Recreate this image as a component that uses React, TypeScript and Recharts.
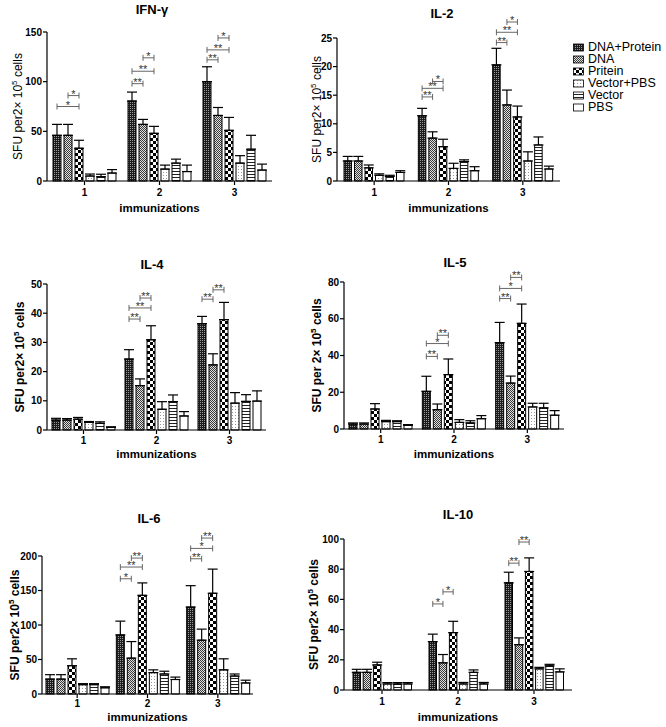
import React from 'react';
import { BarChart, Bar, XAxis, YAxis, ErrorBar, Legend } from 'recharts';

const FONT = '"Liberation Sans", Arial, Helvetica, sans-serif';

const categories = ['1', '2', '3'];
const seriesNames = ['DNA+Protein', 'DNA', 'Pritein', 'Vector+PBS', 'Vector', 'PBS'];
const seriesFills = ['url(#pDP)', 'url(#pD)', 'url(#pP)', 'url(#pVP)', 'url(#pV)', '#ffffff'];

// [group][series]
const ifnMeans = [[46, 46, 33, 5, 4.3, 8], [80.5, 57, 48, 12, 18, 9.5], [100, 66, 51, 18, 32, 11]];
const ifnErrors = [[11, 11, 8, 2, 2.5, 3.5], [9, 5, 7, 4, 4, 6.5], [15, 8, 13, 7.5, 14, 6]];
const ifnTicks = [0, 50, 100, 150];

const il2Means = [[3.5, 3.5, 2.3, 1.0, 0.8, 1.5], [11.4, 7.5, 6.0, 2.2, 3.4, 1.8], [20.3, 13.3, 11.2, 3.5, 6.3, 2.1]];
const il2Errors = [[0.8, 0.8, 0.5, 0.25, 0.2, 0.3], [1.3, 1.1, 1.3, 0.9, 0.3, 0.7], [2.9, 2.6, 1.9, 1.6, 1.4, 0.5]];
const il2Ticks = [0, 5, 10, 15, 20, 25];

const il4Means = [[3.4, 3.4, 3.7, 2.6, 2.3, 0.9], [24.3, 15.2, 30.9, 7.1, 9.7, 4.8], [36.4, 22.3, 37.8, 9.2, 9.8, 9.9]];
const il4Errors = [[0.6, 0.5, 0.6, 0.3, 0.5, 0.2], [3.2, 2.3, 4.8, 2.6, 2.3, 1.5], [2.5, 3.8, 5.9, 3.6, 2.3, 3.5]];
const il4Ticks = [0, 10, 20, 30, 40, 50];

const il5Means = [[2.7, 2.7, 10.9, 4.0, 4.0, 2.0], [20.5, 10.5, 29.6, 3.6, 3.3, 5.6], [47, 25, 57.5, 12, 11.5, 7.5]];
const il5Errors = [[0.6, 0.6, 2.9, 0.7, 0.5, 0.4], [8.2, 3.1, 8.5, 1.5, 1.2, 1.7], [11, 3.8, 10.5, 2, 2.5, 2.5]];
const il5Ticks = [0, 20, 40, 60, 80];

const il6Means = [[21.6, 21.6, 41, 13.5, 13.5, 9], [85.6, 52, 143, 31, 29, 21], [126, 78, 146, 35, 26, 16]];
const il6Errors = [[6.4, 6.4, 10, 1.5, 1.5, 1.5], [20, 24, 18, 4, 4, 3.5], [31, 16, 35, 16, 3, 4]];
const il6Ticks = [0, 50, 100, 150, 200];

const il10Means = [[11.7, 11.7, 16.6, 4, 4, 4], [32, 18, 38, 4, 11.7, 4], [71, 30, 78.5, 14, 16, 12]];
const il10Errors = [[2, 2, 1.8, 0.9, 0.9, 0.9], [5, 5.5, 7.5, 1, 1.6, 1], [7, 4.5, 9, 1, 1, 2]];
const il10Ticks = [0, 20, 40, 60, 80, 100];

// significance brackets: [group, fromSeries, toSeries, level, text]
type Sig = [number, number, number, number, string];
const ifnSig: Sig[] = [[0, 0, 2, 75, '*'], [0, 1, 2, 86, '*'], [1, 0, 1, 98, '**'], [1, 0, 2, 110.5, '**'], [1, 1, 2, 124, '*'], [2, 0, 1, 122, '**'], [2, 0, 2, 132, '**'], [2, 1, 2, 144, '*']];
const il2Sig: Sig[] = [[1, 0, 1, 14.7, '**'], [1, 0, 2, 16.2, '**'], [1, 1, 2, 17.4, '*'], [2, 0, 1, 24.2, '**'], [2, 0, 2, 26, '**'], [2, 1, 2, 27.8, '*']];
const il4Sig: Sig[] = [[1, 0, 1, 38, '**'], [1, 0, 2, 41.8, '**'], [1, 1, 2, 45.2, '**'], [2, 0, 1, 44.8, '**'], [2, 1, 2, 48, '**']];
const il5Sig: Sig[] = [[1, 0, 1, 39.5, '**'], [1, 0, 2, 46.5, '*'], [1, 1, 2, 51, '**'], [2, 0, 1, 71, '**'], [2, 0, 2, 76.5, '*'], [2, 1, 2, 82.5, '**']];
const il6Sig: Sig[] = [[1, 0, 1, 167, '*'], [1, 0, 2, 184, '**'], [1, 1, 2, 197, '**'], [2, 0, 1, 196, '**'], [2, 0, 2, 211, '*'], [2, 1, 2, 226, '**']];
const il10Sig: Sig[] = [[1, 0, 1, 57, '*'], [1, 1, 2, 65, '*'], [2, 0, 1, 84, '**'], [2, 1, 2, 98, '**']];

function buildRows(means: number[][], errors: number[][]) {
  return categories.map((c, g) => {
    const row: any = { cat: c };
    seriesNames.forEach((_, s) => {
      row['v' + s] = means[g][s];
      row['e' + s] = errors[g][s];
    });
    return row;
  });
}

const makeBracketShape = (sig: Sig[], step: number) => (sp: any) => {
  const { x, y, width, height, payload, fill } = sp;
  const g = categories.indexOf(payload.cat);
  const k = payload.v0 ? height / payload.v0 : 0;
  const base = y + height;
  return (
    <g>
      <rect x={x} y={y} width={width} height={height} fill={fill} stroke="#000" strokeWidth={1} />
      {sig.filter((s) => s[0] === g).map((s, i) => {
        const x1 = x + width / 2 + s[1] * step;
        const x2 = x + width / 2 + s[2] * step;
        const yy = base - s[3] * k;
        return (
          <g key={i} stroke="#555" strokeWidth={0.9}>
            <line x1={x1} x2={x2} y1={yy} y2={yy} />
            <line x1={x1} x2={x1} y1={yy - 3} y2={yy + 3} />
            <line x1={x2} x2={x2} y1={yy - 3} y2={yy + 3} />
            <text x={(x1 + x2) / 2} y={yy + 2} textAnchor="middle" fontSize={11} fontFamily={FONT} fill="#333" stroke="none">{s[4]}</text>
          </g>
        );
      })}
    </g>
  );
};

interface PanelProps {
  title: string;
  means: number[][];
  errors: number[][];
  ticks: number[];
  sig: Sig[];
  box: { left: number; top: number; width: number; height: number };
  plot: { left: number; right: number; top: number; bottom: number };
  titlePos: { x: number; y: number };
  yLabelText: string;
  yLabelX: number;
  yLabelBold: boolean;
  xLabelBaseline: number;
  tickMargin: number;
  barSize: number;
  barGap: number;
  legend?: { left: number; top: number };
}

const legendContent = (lp: any) => {
  const items = [...(lp.payload || [])].sort((a: any, b: any) => seriesNames.indexOf(a.value) - seriesNames.indexOf(b.value));
  return (
    <div style={{ fontFamily: FONT, fontSize: 12.5, color: '#000' }}>
      {items.map((e: any, i: number) => (
        <div key={i} style={{ display: 'flex', alignItems: 'center', height: 12 }}>
          <svg width={12} height={9} style={{ marginRight: 3, display: 'block', flex: 'none' }}>
            <rect x={0.5} y={1} width={10} height={7} fill={(e.payload && e.payload.fill) || e.color} stroke="#000" strokeWidth={0.8} />
          </svg>
          <span style={{ lineHeight: '12px', whiteSpace: 'nowrap' }}>{e.value}</span>
        </div>
      ))}
    </div>
  );
};

const Panel = (p: PanelProps) => {
  const rows = buildRows(p.means, p.errors);
  const step = p.barSize + p.barGap;
  const xAxisH = 30;
  const margin = {
    top: p.plot.top - p.box.top,
    right: p.box.left + p.box.width - p.plot.right,
    left: 0,
    bottom: p.box.top + p.box.height - p.plot.bottom - xAxisH,
  };
  const domainMax = p.ticks[p.ticks.length - 1];
  const lx = p.yLabelX - p.box.left + 4;
  const ly = (p.plot.top + p.plot.bottom) / 2 - p.box.top;
  const yLabel = () => (
    <text x={lx} y={ly} transform={`rotate(-90 ${lx} ${ly})`} textAnchor="middle" fontFamily={FONT} fontSize={12} fontWeight={p.yLabelBold ? 'bold' : 'normal'} fill="#000">
      {p.yLabelText}
      <tspan dy={-5} fontSize={8}>5</tspan>
      <tspan dy={5}> cells</tspan>
    </text>
  );
  const xcx = (p.plot.left + p.plot.right) / 2 - p.box.left;
  const xcy = p.xLabelBaseline - p.box.top;
  const xLabel = () => (
    <text x={xcx} y={xcy} textAnchor="middle" fontFamily={FONT} fontSize={11.5} fontWeight="bold" fill="#000">immunizations</text>
  );
  const tickStyle = { fontSize: 10, fontWeight: 700, fill: '#000', fontFamily: FONT };
  return (
    <div style={{ position: 'absolute', left: p.box.left, top: p.box.top, width: p.box.width, height: p.box.height }}>
      <div style={{ position: 'absolute', left: p.titlePos.x - p.box.left - 50, width: 100, top: p.titlePos.y - p.box.top - 8, textAlign: 'center', fontFamily: FONT, fontWeight: 'bold', fontSize: 13, lineHeight: '16px', color: '#000' }}>{p.title}</div>
      <BarChart width={p.box.width} height={p.box.height} data={rows} margin={margin} barGap={p.barGap} barSize={p.barSize} style={{ overflow: 'visible' }}>
        <XAxis dataKey="cat" height={xAxisH} tickSize={4} tickMargin={p.tickMargin} stroke="#000" strokeWidth={1.2} tick={tickStyle} tickLine={{ stroke: '#000', strokeWidth: 1.2 }} axisLine={{ stroke: '#000', strokeWidth: 1.2 }} label={xLabel} />
        <YAxis width={p.plot.left - p.box.left} domain={[0, domainMax]} ticks={p.ticks} interval={0} tickSize={4} tickMargin={1} tick={tickStyle} tickLine={{ stroke: '#000', strokeWidth: 1.2 }} axisLine={{ stroke: '#000', strokeWidth: 1.2 }} label={yLabel} />
        {p.legend && (
          <Legend layout="vertical" align="center" verticalAlign="middle" content={legendContent} wrapperStyle={{ left: p.legend.left - p.box.left, top: p.legend.top - p.box.top, width: 110, height: 75 }} />
        )}
        {seriesNames.map((name, s) => (
          <Bar
            key={name}
            dataKey={'v' + s}
            name={name}
            fill={seriesFills[s]}
            stroke="#000"
            strokeWidth={1}
            isAnimationActive={false}
            shape={s === 0 ? makeBracketShape(p.sig, step) : undefined}
          >
            <ErrorBar dataKey={(d: any) => [0, d['e' + s]]} width={5} stroke="#000" strokeWidth={1.2} direction="y" />
          </Bar>
        ))}
      </BarChart>
    </div>
  );
};

export default function App() {
  return (
    <div style={{ position: 'absolute', left: 0, top: 0, width: 666, height: 727, background: '#fff', overflow: 'hidden' }}>
      <svg width={0} height={0} style={{ position: 'absolute' }}>
        <defs>
          <pattern id="pDP" patternUnits="userSpaceOnUse" width="2" height="2">
            <rect width="2" height="2" fill="#1c1c1c" />
            <rect width="1" height="1" fill="#9a9a9a" />
          </pattern>
          <pattern id="pD" patternUnits="userSpaceOnUse" width="2" height="2">
            <rect width="2" height="2" fill="#e0e0e0" />
            <rect width="1" height="1" fill="#3a3a3a" />
            <rect x="1" y="1" width="1" height="1" fill="#3a3a3a" />
          </pattern>
          <pattern id="pP" patternUnits="userSpaceOnUse" width="6" height="6">
            <rect width="6" height="6" fill="#fff" />
            <rect width="3" height="3" fill="#000" />
            <rect x="3" y="3" width="3" height="3" fill="#000" />
          </pattern>
          <pattern id="pVP" patternUnits="userSpaceOnUse" width="3" height="3">
            <rect width="3" height="3" fill="#fff" />
            <rect x="1" y="1" width="1" height="1" fill="#999" />
          </pattern>
          <pattern id="pV" patternUnits="userSpaceOnUse" width="3" height="3">
            <rect width="3" height="3" fill="#fff" />
            <rect width="3" height="1" fill="#222" />
          </pattern>
        </defs>
      </svg>
      <Panel title="IFN-γ" means={ifnMeans} errors={ifnErrors} ticks={ifnTicks} sig={ifnSig}
        box={{ left: 0, top: 0, width: 290, height: 225 }} plot={{ left: 47, right: 272, top: 32, bottom: 181 }}
        titlePos={{ x: 152, y: 10 }} yLabelText="SFU per2× 10" yLabelX={18} yLabelBold={false}
        xLabelBaseline={212} tickMargin={4} barSize={8} barGap={3} />
      <Panel title="IL-2" means={il2Means} errors={il2Errors} ticks={il2Ticks} sig={il2Sig}
        box={{ left: 290, top: 0, width: 376, height: 225 }} plot={{ left: 337, right: 560, top: 38, bottom: 181 }}
        titlePos={{ x: 442, y: 14 }} yLabelText="SFU per2× 10" yLabelX={317} yLabelBold={false}
        xLabelBaseline={212} tickMargin={4} barSize={7.5} barGap={3} legend={{ left: 573, top: 41 }} />
      <Panel title="IL-4" means={il4Means} errors={il4Errors} ticks={il4Ticks} sig={il4Sig}
        box={{ left: 0, top: 240, width: 290, height: 230 }} plot={{ left: 47, right: 266, top: 284, bottom: 430 }}
        titlePos={{ x: 152, y: 265 }} yLabelText="SFU per2× 10" yLabelX={20} yLabelBold={true}
        xLabelBaseline={458} tickMargin={2.5} barSize={8} barGap={3} />
      <Panel title="IL-5" means={il5Means} errors={il5Errors} ticks={il5Ticks} sig={il5Sig}
        box={{ left: 290, top: 240, width: 376, height: 230 }} plot={{ left: 344, right: 564, top: 282, bottom: 429 }}
        titlePos={{ x: 455, y: 263 }} yLabelText="SFU per 2× 10" yLabelX={317} yLabelBold={true}
        xLabelBaseline={458} tickMargin={3} barSize={8} barGap={3} />
      <Panel title="IL-6" means={il6Means} errors={il6Errors} ticks={il6Ticks} sig={il6Sig}
        box={{ left: 0, top: 480, width: 290, height: 247 }} plot={{ left: 42, right: 253, top: 556, bottom: 694 }}
        titlePos={{ x: 149, y: 519 }} yLabelText="SFU per2× 10" yLabelX={15} yLabelBold={true}
        xLabelBaseline={721} tickMargin={1.5} barSize={8} barGap={3} />
      <Panel title="IL-10" means={il10Means} errors={il10Errors} ticks={il10Ticks} sig={il10Sig}
        box={{ left: 290, top: 480, width: 376, height: 247 }} plot={{ left: 344, right: 572, top: 539, bottom: 690 }}
        titlePos={{ x: 458, y: 515 }} yLabelText="SFU per2× 10" yLabelX={314} yLabelBold={true}
        xLabelBaseline={721} tickMargin={4} barSize={7.5} barGap={2.7} />
    </div>
  );
}
